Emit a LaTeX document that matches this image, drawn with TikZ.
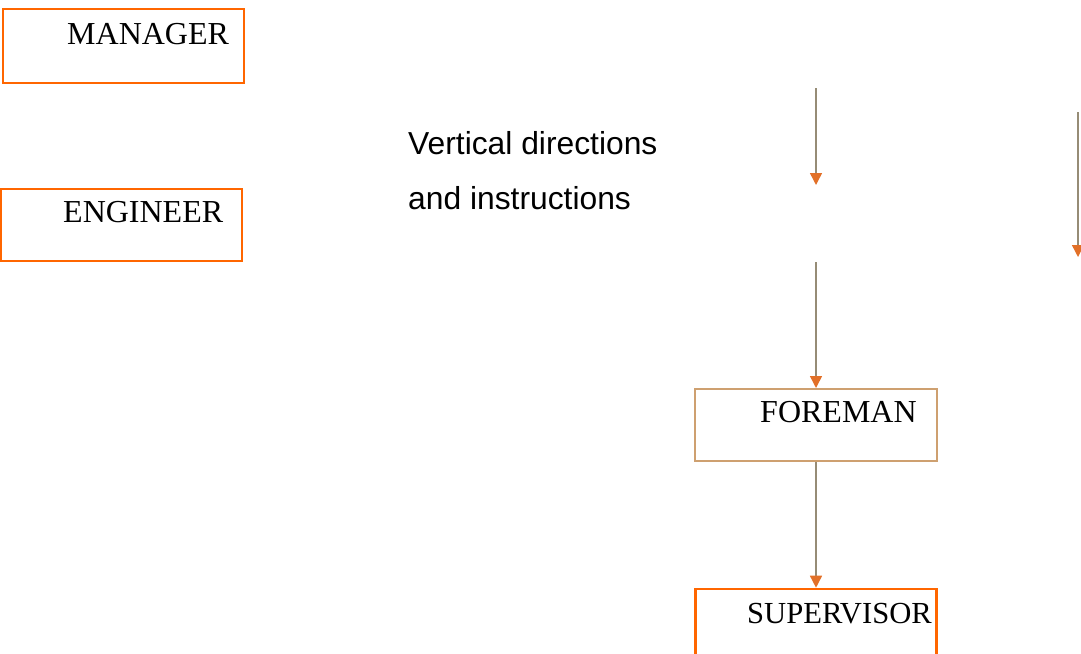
\documentclass[tikz,border=0pt]{standalone}
\usepackage{fontspec}
\setmainfont{Liberation Serif}
\newfontfamily\labelsans{Liberation Sans}
\usetikzlibrary{arrows.meta}

\definecolor{boxorange}{RGB}{255,102,0}
\definecolor{boxtan}{RGB}{206,160,112}
\definecolor{shaftgray}{RGB}{150,140,118}
\definecolor{tiporange}{RGB}{226,112,40}

\tikzset{
  rolebox/.style={draw=boxorange, line width=2.6pt, rectangle, inner sep=0pt},
  softbox/.style={draw=boxtan, line width=2pt, rectangle, inner sep=0pt},
  roletext/.style={anchor=base west, inner sep=0pt, font=\fontsize{32}{38}\selectfont},
  notetext/.style={anchor=base west, inner sep=0pt, font=\labelsans\fontsize{31.8}{38}\selectfont},
  flow/.style={draw=shaftgray, line width=1.5pt,
    -{Triangle[width=12pt, length=12pt, color=tiporange]}}
}

\begin{document}
\begin{tikzpicture}[x=1pt, y=-1pt]
  \useasboundingbox (0,0) rectangle (1081,653);

  % boxes
  \node[rolebox, minimum width=241pt, minimum height=74pt] (manager) at (123.5,46) {};
  \node[rolebox, minimum width=241pt, minimum height=72pt] (engineer) at (121.5,225) {};
  \node[softbox, minimum width=242pt, minimum height=72pt] (foreman) at (816,425) {};
  \node[rolebox, minimum width=241pt, minimum height=100pt] (supervisor) at (816,639) {};

  % box titles
  \node[roletext] (managertxt) at (67,44) {MANAGER};
  \node[roletext] (engineertxt) at (63,222) {ENGINEER};
  \node[roletext] (foremantxt) at (760,422) {FOREMAN};
  \node[roletext, font=\fontsize{30.6}{36}\selectfont] (supervisortxt) at (747,623) {SUPERVISOR};

  % side note
  \node[notetext] (note1) at (408,154) {Vertical directions};
  \node[notetext] (note2) at (408,209) {and instructions};

  % free arrow ends
  \coordinate (a1s) at (816,88);
  \coordinate (a1e) at (816,185);
  \coordinate (a2s) at (1078,112);
  \coordinate (a2e) at (1078,257);
  \coordinate (a3s) at (816,262);

  % arrows
  \draw[flow] (a1s) -- (a1e);
  \draw[flow] (a2s) -- (a2e);
  \draw[flow] (a3s) -- (foreman.north);
  \draw[flow] (foreman.south) -- (supervisor.north);
\end{tikzpicture}
\end{document}
